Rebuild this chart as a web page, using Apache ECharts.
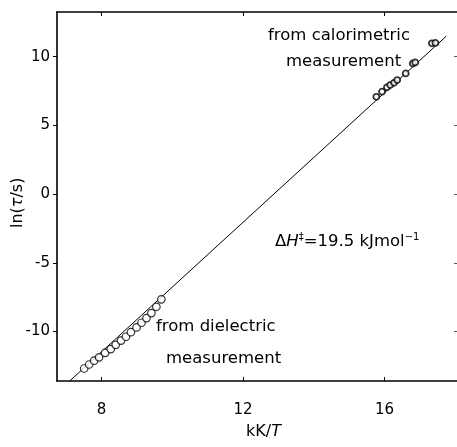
<!DOCTYPE html>
<html>
<head>
<meta charset="utf-8">
<script src="https://cdn.jsdelivr.net/npm/echarts@6/dist/echarts.min.js"></script>
<style>
  html, body { margin: 0; padding: 0; background: #fff; }
  #chart { width: 457px; height: 447px; }
</style>
</head>
<body>
<div id="chart"></div>
<script>
// Relaxation time vs inverse temperature (Arrhenius plot)
var xTicks = [8, 12, 16];
var yTicks = [-10, -5, 0, 5, 10];

// dielectric relaxation points: 1000/T (kK/T) and ln(tau/s)
var dielectricX = [7.51, 7.65, 7.79, 7.93, 8.10, 8.26, 8.40, 8.55, 8.69, 8.83, 8.99, 9.13, 9.27, 9.41, 9.55, 9.69];
var dielectricY = [-12.69, -12.40, -12.12, -11.88, -11.55, -11.28, -10.97, -10.66, -10.38, -10.05, -9.70, -9.36, -9.02, -8.66, -8.20, -7.66];

// calorimetric points
var calorX = [15.77, 15.93, 16.07, 16.16, 16.27, 16.36, 16.60, 16.80, 16.87, 17.34, 17.44];
var calorY = [7.08, 7.45, 7.77, 7.93, 8.10, 8.30, 8.78, 9.51, 9.58, 10.97, 11.00];

// Arrhenius fit line endpoints
var fitX = [7.10, 17.75];
var fitY = [-13.6, 11.5];

function pairs(xs, ys) { return xs.map(function (x, i) { return [x, ys[i]]; }); }

var FONT = 'DejaVu Sans';
var chart = echarts.init(document.getElementById('chart'), null, { renderer: 'canvas' });

var axisLineStyle = { color: '#000', width: 1.6 };
var textFont = '16.5px "DejaVu Sans"';

chart.setOption({
  backgroundColor: '#fff',
  animation: false,
  grid: { left: 57, top: 12, right: 0, bottom: 66 },
  xAxis: [{
    type: 'value', min: 6.74, max: 18.05, position: 'bottom',
    axisLine: { show: true, onZero: false, lineStyle: axisLineStyle },
    axisTick: { show: true, inside: true, length: 4, lineStyle: { color: '#000', width: 1 },
      customValues: xTicks },
    axisLabel: { show: true, customValues: xTicks, color: '#000', fontFamily: FONT, fontSize: 15, margin: 22 },
    splitLine: { show: false }
  }, {
    type: 'value', min: 6.74, max: 18.05, position: 'top',
    axisLine: { show: true, onZero: false, lineStyle: axisLineStyle },
    axisTick: { show: true, inside: true, length: 4, lineStyle: { color: '#000', width: 1 },
      customValues: xTicks },
    axisLabel: { show: false },
    splitLine: { show: false }
  }],
  yAxis: [{
    type: 'value', min: -13.6, max: 13.25, position: 'left',
    axisLine: { show: true, onZero: false, lineStyle: axisLineStyle },
    axisTick: { show: true, inside: false, length: 4, lineStyle: { color: '#000', width: 1 },
      customValues: yTicks },
    axisLabel: { show: true, customValues: yTicks, color: '#000', fontFamily: FONT, fontSize: 15, margin: 7,
      formatter: function (v) { return v < 0 ? '-' + Math.abs(v) : String(v); } },
    splitLine: { show: false }
  }, {
    type: 'value', min: -13.6, max: 13.25, position: 'right',
    axisLine: { show: false },
    axisTick: { show: true, inside: true, length: 3, lineStyle: { color: '#555', width: 1 },
      customValues: yTicks },
    axisLabel: { show: false },
    splitLine: { show: false }
  }],
  series: [{
    type: 'line', data: pairs(fitX, fitY), symbol: 'none',
    lineStyle: { color: '#000', width: 1 }, z: 2
  }, {
    type: 'scatter', data: pairs(dielectricX, dielectricY), symbol: 'circle', symbolSize: 7.5,
    itemStyle: { color: '#fff', borderColor: '#000', borderWidth: 1.2 }, z: 3
  }, {
    type: 'scatter', data: pairs(calorX, calorY), symbol: 'circle', symbolSize: 6,
    itemStyle: { color: '#fff', borderColor: '#000', borderWidth: 1.8 }, z: 3
  }],
  graphic: [
    { type: 'text', left: 268, top: 27, style: { text: 'from calorimetric', font: textFont, fill: '#000' } },
    { type: 'text', left: 286, top: 53, style: { text: 'measurement', font: textFont, fill: '#000' } },
    { type: 'text', left: 156, top: 318, style: { text: 'from dielectric', font: textFont, fill: '#000' } },
    { type: 'text', left: 166, top: 350, style: { text: 'measurement', font: textFont, fill: '#000' } },
    { type: 'text', left: 275, top: 232, style: {
      text: '{n|Δ}{i|H}{s|‡}{n|=19.5 kJmol}{s|−1}',
      rich: {
        n: { fontFamily: FONT, fontSize: 16.5, color: '#000' },
        i: { fontFamily: FONT, fontSize: 16.5, fontStyle: 'italic', color: '#000' },
        s: { fontFamily: FONT, fontSize: 10, color: '#000', verticalAlign: 'top', padding: [0, 0, 9, 0] }
      }
    } },
    { type: 'text', left: 246, top: 424, style: {
      text: '{n|kK/}{i|T}',
      rich: {
        n: { fontFamily: FONT, fontSize: 16, color: '#000' },
        i: { fontFamily: FONT, fontSize: 16, fontStyle: 'italic', color: '#000' }
      }
    } },
    { type: 'text', x: 10, y: 228, rotation: Math.PI / 2, style: {
      text: '{n|ln(}{i|τ}{n|/s)}',
      rich: {
        n: { fontFamily: FONT, fontSize: 16, color: '#000' },
        i: { fontFamily: FONT, fontSize: 16, fontStyle: 'italic', color: '#000' }
      }
    } }
  ]
});
</script>
</body>
</html>
